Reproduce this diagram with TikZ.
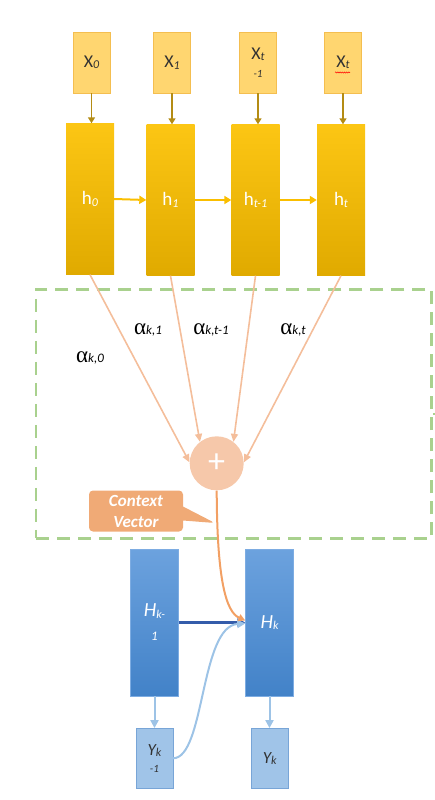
\documentclass[tikz,border=0pt]{standalone}
\usepackage{fontspec}
\setmainfont{Carlito}
\newfontfamily\grk{Liberation Serif}
\usetikzlibrary{arrows.meta,shapes.callouts,decorations.pathmorphing,calc}
\definecolor{xfill}{RGB}{255,214,112}
\definecolor{xdraw}{RGB}{244,190,80}
\definecolor{htop}{RGB}{252,198,20}
\definecolor{hbot}{RGB}{224,170,0}
\definecolor{xarr}{RGB}{180,140,20}
\definecolor{harr}{RGB}{250,190,0}
\definecolor{peach}{RGB}{246,200,170}
\definecolor{peachline}{RGB}{244,190,155}
\definecolor{cvfill}{RGB}{240,170,118}
\definecolor{ctxline}{RGB}{242,160,100}
\definecolor{frameg}{RGB}{169,209,142}
\definecolor{btop}{RGB}{108,162,222}
\definecolor{bbot}{RGB}{66,130,200}
\definecolor{bdraw}{RGB}{125,172,226}
\definecolor{darkb}{RGB}{52,92,170}
\definecolor{lightb}{RGB}{157,195,230}
\definecolor{yfill}{RGB}{160,196,232}
\definecolor{ydraw}{RGB}{120,165,215}
\definecolor{txt}{RGB}{50,50,50}
\newcommand\lsub[1]{\raisebox{-1.5pt}{\fontsize{12}{12}\selectfont\itshape #1}}
\newcommand\asub[1]{{\fontsize{13}{13}\selectfont\itshape #1}}
\newcommand\alp{{\fontsize{23}{23}\selectfont\grk α}}
\begin{document}
\begin{tikzpicture}[x=1pt,y=-1pt,
  xbox/.style={draw=xdraw,fill=xfill,minimum width=37pt,minimum height=61pt,inner sep=0pt,text=txt,font=\fontsize{18}{18}\selectfont,align=center},
  hbox/.style={top color=htop,bottom color=hbot,draw=none,minimum width=48pt,minimum height=151pt,inner sep=0pt,text=white,font=\fontsize{19}{19}\selectfont},
  bbox/.style={top color=btop,bottom color=bbot,draw=bdraw,minimum width=48pt,minimum height=147pt,inner sep=0pt,text=white,font=\fontsize{20}{21}\selectfont\itshape,align=center},
  ybox/.style={draw=ydraw,fill=yfill,minimum width=37pt,minimum height=60pt,inner sep=0pt,text=txt,font=\fontsize{17}{17}\selectfont\itshape,align=center},
  xarrow/.style={draw=xarr,line width=1.5pt,-{Triangle[length=6pt,width=7pt]}},
  harrow/.style={draw=harr,line width=2pt,-{Triangle[length=7pt,width=8pt]}},
  attn/.style={draw=peachline,line width=1.6pt,-{Triangle[length=8pt,width=7pt]}},
  ctx/.style={draw=ctxline,line width=2pt,-{Triangle[length=7pt,width=7pt]}},
  darr/.style={draw=darkb,line width=2.2pt,-{Triangle[length=8pt,width=8pt]}},
  larr/.style={draw=lightb,line width=2pt,-{Triangle[length=8pt,width=8pt]}},
  dashbox/.style={draw=frameg,line width=2.5pt,dash pattern=on 13pt off 8pt,minimum width=395.7pt,minimum height=249pt,inner sep=0pt},
  alab/.style={text=black,inner sep=0pt}
]
\useasboundingbox (0,0) rectangle (435,800);
% frame
\node[dashbox] (frame) at (233.85,413.8) {};
\draw[frameg,line width=1.5pt] (frame.east) -- ++(3,0);
% inputs
\node[xbox] (x0) at (91.5,62.5) {X\lsub{0}};
\node[xbox] (x1) at (172,62.5) {X\lsub{1}};
\node[xbox] (x2) at (258,62.5) {X\lsub{t}\\[0pt]{\fontsize{11}{11}\selectfont\itshape -1}};
\node[xbox] (x3) at (343,62.5) {X\lsub{t}};
\draw[red,line width=0.5pt,decorate,decoration={snake,amplitude=0.6pt,segment length=2.2pt}] ($(x3.center)+(-8,10)$) -- ($(x3.center)+(7,10)$);
% hidden states
\node[hbox] (h0) at (90,199) {h\lsub{0}};
\node[hbox] (h1) at (170.5,200) {h\lsub{1}};
\node[hbox] (h2) at (255.5,200) {h\lsub{t-1}};
\node[hbox] (h3) at (341,200) {h\lsub{t}};
\foreach \i in {0,1,2,3}{
  \draw[xarrow] (x\i.south) -- (x\i.south |- h\i.north);
}
\draw[harrow] (h0.east) -- (h1.west);
\draw[harrow] (h1.east) -- (h2.west);
\draw[harrow] (h2.east) -- (h3.west);
% sum node
\node[circle,fill=peach,minimum size=54pt,inner sep=0pt,text=white,font=\fontsize{34}{34}\selectfont] (plus) at (216.7,463.3) {+};
\draw[attn] (h0.south) -- (plus.178);
\draw[attn] (h1.south) -- (plus.128);
\draw[attn] (h2.south) -- (plus.52);
\draw[attn] (h3.south) -- (plus.2);
% alpha labels
\node[alab] (a0) at (90,358) {\alp\asub{k,0}};
\node[alab] (a1) at (148,330) {\alp\asub{k,1}};
\node[alab] (a2) at (211,330) {\alp\asub{k,t-1}};
\node[alab] (a3) at (293,330) {\alp\asub{k,t}};
% context vector callout
\coordinate (cvtip) at (215,523);
\node[rectangle callout,fill=cvfill,rounded corners=4pt,minimum width=94pt,minimum height=41pt,inner sep=0pt,
  callout absolute pointer={(cvtip)},callout pointer width=14pt,
  text=white,font=\fontsize{17}{21}\selectfont\bfseries\itshape,align=center] (cv) at (136,511) {Context\\Vector};
% decoder
\node[bbox] (Hkm) at (154.5,622.5) {H\lsub{k-}\\[3pt]{\fontsize{13}{13}\selectfont\itshape 1}};
\node[bbox] (Hk) at (269.5,622.5) {H\lsub{k}};
\node[ybox] (Ykm) at (154.4,758.3) {Y\lsub{k}\\[0pt]{\fontsize{11}{11}\selectfont\itshape -1}};
\node[ybox] (Yk) at (269.7,758.3) {Y\lsub{k}};
\draw[darr] (Hkm.east) -- (Hk.west);
\draw[larr] (Hkm.south) -- (Hkm.south |- Ykm.north);
\draw[larr] (Hk.south) -- (Hk.south |- Yk.north);
\draw[larr] (Ykm.east) .. controls (205,758) and (200,626) .. ([yshift=-1pt]Hk.west);
\draw[ctx] (plus.south) .. controls (217,580) and (226,612) .. ([yshift=2pt]Hk.west);
\end{tikzpicture}
\end{document}
